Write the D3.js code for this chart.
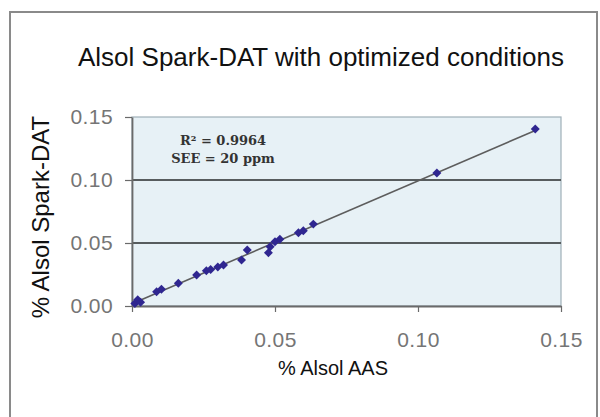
<!DOCTYPE html>
<html>
<head>
<meta charset="utf-8">
<script src="https://cdn.jsdelivr.net/npm/d3@7"></script>
<style>
  body { margin: 0; background: #fff; }
  svg { display: block; font-family: "Liberation Sans", Arial, sans-serif; }
</style>
</head>
<body>
<div id="chart"></div>
<script>
// values
var aas   = [0.001, 0.002, 0.003, 0.0086, 0.0103, 0.0162, 0.0226, 0.026, 0.0275, 0.030, 0.032,
             0.0383, 0.0403, 0.0477, 0.0483, 0.050, 0.0517, 0.0582, 0.0599, 0.0634, 0.1066, 0.141];
var spark = [0.002, 0.005, 0.003, 0.0113, 0.0133, 0.018, 0.0246, 0.028, 0.029, 0.031, 0.0325,
             0.0365, 0.0444, 0.0423, 0.047, 0.051, 0.053, 0.0582, 0.0598, 0.065, 0.1055, 0.1405];
var xTicks = [0, 0.05, 0.10, 0.15];
var yTicks = [0, 0.05, 0.10, 0.15];
var fitNotes = ["R\u00b2 = 0.9964", "SEE = 20 ppm"];

(function(){

  var W = 600, H = 417;
  var plot = {left: 132, right: 561, top: 117, bottom: 306};

  var svg = d3.select("#chart").append("svg")
    .attr("width", W).attr("height", H);

  // outer frame
  svg.append("rect")
    .attr("x", 10).attr("y", 12)
    .attr("width", 587).attr("height", 420)
    .attr("fill", "#fff")
    .attr("stroke", "#8a8a8a")
    .attr("stroke-width", 2);

  var x = d3.scaleLinear().domain([0, 0.15]).range([plot.left, plot.right]);
  var y = d3.scaleLinear().domain([0, 0.15]).range([plot.bottom, plot.top]);

  // plot background
  svg.append("rect")
    .attr("x", plot.left).attr("y", plot.top)
    .attr("width", plot.right - plot.left).attr("height", plot.bottom - plot.top)
    .attr("fill", "#e7f1f6")
    .attr("stroke", "#9fb0b8")
    .attr("stroke-width", 1.2);

  // horizontal grid
  svg.selectAll(".grid")
    .data(yTicks.filter(function(d){ return d > 0 && d < 0.15; }))
    .enter().append("line")
      .attr("x1", plot.left).attr("x2", plot.right)
      .attr("y1", function(d){ return y(d); })
      .attr("y2", function(d){ return y(d); })
      .attr("stroke", "#575c5e")
      .attr("stroke-width", 1.8);

  // axes
  var xAxis = d3.axisBottom(x).tickValues(xTicks).tickSize(6).tickSizeOuter(0)
    .tickFormat(d3.format(".2f"));
  var yAxis = d3.axisLeft(y).tickValues(yTicks).tickSize(7).tickSizeOuter(0)
    .tickFormat(d3.format(".2f"));

  var gx = svg.append("g").attr("transform", "translate(0," + plot.bottom + ")").call(xAxis);
  var gy = svg.append("g").attr("transform", "translate(" + plot.left + ",0)").call(yAxis);

  [gx, gy].forEach(function(g){
    g.select(".domain").attr("stroke", "#6a6a6a").attr("stroke-width", 1.8);
    g.selectAll(".tick line").attr("stroke", "#6a6a6a").attr("stroke-width", 1.2);
    g.selectAll(".tick text")
      .attr("fill", "#757575")
      .attr("font-size", "21px")
      .attr("letter-spacing", "0.4px")
      .attr("font-family", "Liberation Sans, Arial, sans-serif");
  });
  gx.selectAll(".tick text").attr("y", 26);
  gy.selectAll(".tick text").attr("x", -19);

  // trend line (least squares through the points)
  var mx = d3.mean(aas), my = d3.mean(spark);
  var slope = d3.sum(aas, function(v, i){ return (v - mx) * (spark[i] - my); }) /
              d3.sum(aas, function(v){ return (v - mx) * (v - mx); });
  var icpt = my - slope * mx;
  var x0 = 0, x1 = d3.max(aas);
  svg.append("line")
    .attr("x1", x(x0)).attr("y1", y(icpt + slope * x0))
    .attr("x2", x(x1)).attr("y2", y(icpt + slope * x1))
    .attr("stroke", "#5d5d5d")
    .attr("stroke-width", 1.6);

  // points
  var diamond = d3.symbol().type(d3.symbolSquare).size(40);
  svg.selectAll(".pt")
    .data(aas.map(function(v, i){ return {x: v, y: spark[i]}; }))
    .enter().append("path")
      .attr("d", diamond)
      .attr("transform", function(d){
        return "translate(" + x(d.x) + "," + y(d.y) + ") rotate(45)";
      })
      .attr("fill", "#2f2690");

  // fit notes
  svg.selectAll(".note")
    .data(fitNotes)
    .enter().append("text")
      .attr("x", 223)
      .attr("y", function(d, i){ return 145 + i * 18; })
      .attr("text-anchor", "middle")
      .attr("font-family", "DejaVu Serif, serif")
      .attr("font-weight", "bold")
      .attr("font-size", "13px")
      .attr("fill", "#333")
      .text(function(d){ return d; });

  // title
  svg.append("text")
    .attr("x", 321).attr("y", 66)
    .attr("text-anchor", "middle")
    .attr("font-size", "26px")
    .attr("fill", "#111")
    .text("Alsol Spark-DAT with optimized conditions");

  // axis titles
  svg.append("text")
    .attr("x", 333).attr("y", 375)
    .attr("text-anchor", "middle")
    .attr("font-size", "20px")
    .attr("fill", "#111")
    .text("% Alsol AAS");

  svg.append("text")
    .attr("transform", "translate(49,217) rotate(-90)")
    .attr("text-anchor", "middle")
    .attr("font-size", "24px")
    .attr("fill", "#111")
    .text("% Alsol Spark-DAT");

})();
</script>
</body>
</html>
